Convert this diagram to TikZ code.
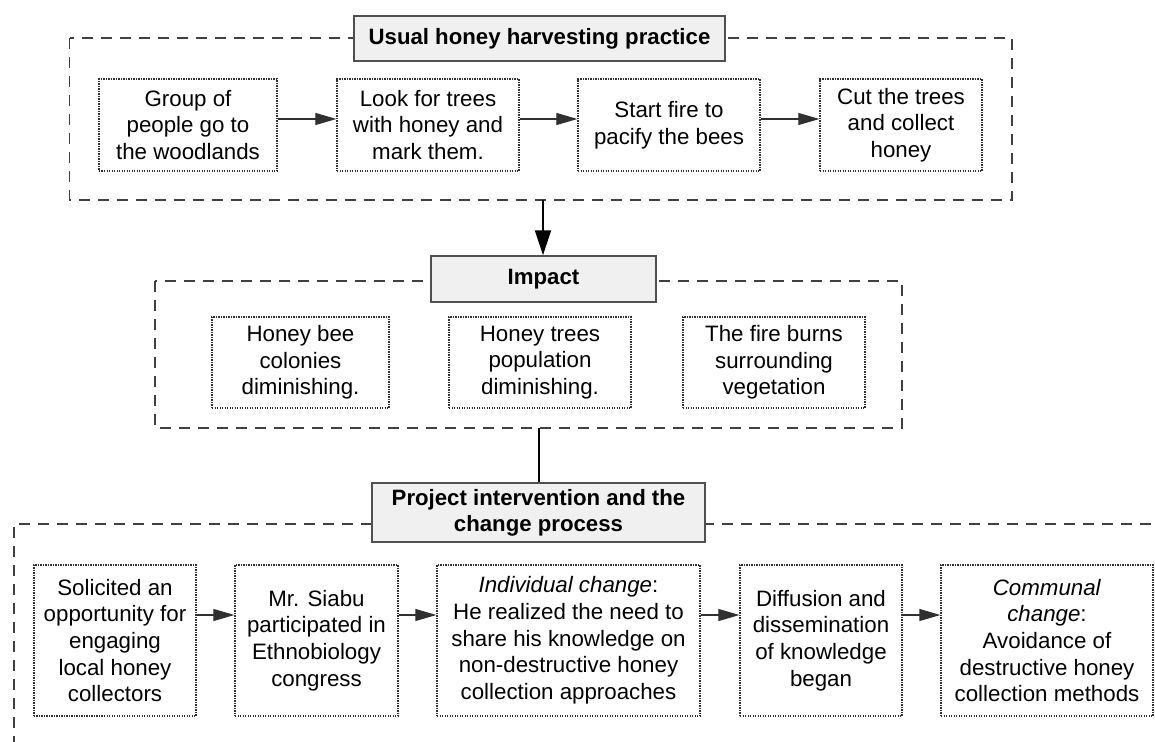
\documentclass[tikz,border=0pt]{standalone}
\usepackage{fontspec}
\setmainfont{Liberation Sans}
\usetikzlibrary{arrows.meta}
\definecolor{dashgray}{HTML}{404040}
\definecolor{titlefill}{HTML}{F0F0F0}
\definecolor{titleborder}{HTML}{505050}
\definecolor{dotgray}{HTML}{303030}
\tikzset{
  stepbox/.style={draw=dotgray, line width=1.3bp, dash pattern=on 1.3bp off 1.2bp,
    align=center, inner sep=0pt, text=black,
    font=\fontsize{22.3bp}{26.7bp}\selectfont},
  titlebox/.style={draw=titleborder, fill=titlefill, line width=1.3bp, align=center,
    inner sep=0pt, font=\fontsize{22.2bp}{26bp}\selectfont\bfseries},
  groupframe/.style={draw=dashgray, line width=1.5bp, dash pattern=on 11bp off 8bp},
  flow/.style={-{Triangle[length=21bp,width=12bp]}, line width=1.1bp, draw=dotgray, fill=black},
  downarrow/.style={-{Triangle[length=25bp,width=16bp]}, line width=2bp, draw=black},
  link/.style={line width=2bp, draw=black},
}
\begin{document}
\begin{tikzpicture}[x=1bp,y=-1bp]
\useasboundingbox (0,0) rectangle (1155,742);
\clip (0,0) rectangle (1155,742);
\fill[white] (0,0) rectangle (1155,742);

% group frames
\draw[groupframe] (69.6,38) rectangle (1012,200);
\draw[groupframe] (155,281) rectangle (902,428);
\draw[groupframe] (1170,524) -- (14,524) -- (14,760);

% titles
\node[titlebox, minimum width=371bp, minimum height=45bp] (usual) at (539.5,38.5) {Usual honey harvesting practice};
\node[titlebox, minimum width=225bp, minimum height=46bp] (impact) at (543.5,279) {Impact};
\node[titlebox, minimum width=333bp, minimum height=59bp] (proj) at (538.5,512.5) {Project intervention and the\\change process};

% top row
\node[stepbox, minimum width=178bp, minimum height=92bp] (u1) at (188,125) {Group of\\people go to\\the woodlands};
\node[stepbox, minimum width=182bp, minimum height=92bp] (u2) at (428,125) {Look for trees\\with honey and\\mark them.};
\node[stepbox, minimum width=182bp, minimum height=92bp] (u3) at (669,125) {Start fire to\\pacify the bees};
\node[stepbox, minimum width=162bp, minimum height=92bp] (u4) at (901,125) {Cut the trees\\and collect\\honey};

\draw[flow] ([yshift=6bp]u1.east) -- ([yshift=6bp]u2.west);
\draw[flow] ([yshift=6bp]u2.east) -- ([yshift=6bp]u3.west);
\draw[flow] ([yshift=6bp]u3.east) -- ([yshift=6bp]u4.west);

% impact row
\node[stepbox, minimum width=177bp, minimum height=91bp] (i1) at (300.5,362.5) {Honey bee\\colonies\\diminishing.};
\node[stepbox, minimum width=182bp, minimum height=91bp] (i2) at (540,362.5) {Honey trees\\population\\diminishing.};
\node[stepbox, minimum width=182bp, minimum height=91bp] (i3) at (774,362.5) {The fire burns\\surrounding\\vegetation};

% project row
\node[stepbox, minimum width=162bp, minimum height=151bp] (p1) at (115,640.5) {Solicited an\\opportunity for\\engaging\\local honey\\collectors};
\node[stepbox, minimum width=163bp, minimum height=151bp] (p2) at (316.5,640.5) {Mr. Siabu\\participated in\\Ethnobiology\\congress};
\node[stepbox, minimum width=263bp, minimum height=151bp] (p3) at (568.5,640.5) {\textit{Individual change}:\\He realized the need to\\share his knowledge on\\non-destructive honey\\collection approaches};
\node[stepbox, minimum width=162bp, minimum height=151bp] (p4) at (821,640.5) {Diffusion and\\dissemination\\of knowledge\\began};
\node[stepbox, minimum width=212bp, minimum height=151bp] (p5) at (1047,640.5) {\textit{Communal}\\\textit{change}:\\Avoidance of\\destructive honey\\collection methods};

\draw[flow] ([yshift=25.5bp]p1.east) -- ([yshift=25.5bp]p2.west);
\draw[flow] ([yshift=25.5bp]p2.east) -- ([yshift=25.5bp]p3.west);
\draw[flow] ([yshift=25.5bp]p3.east) -- ([yshift=25.5bp]p4.west);
\draw[flow] ([yshift=25.5bp]p4.east) -- ([yshift=25.5bp]p5.west);

% vertical connectors
\coordinate (f1b) at (543,200);
\coordinate (f2b) at (539,428);
\draw[downarrow] (f1b) -- (f1b |- impact.north);
\draw[link] (f2b) -- (f2b |- proj.north);
\end{tikzpicture}
\end{document}
